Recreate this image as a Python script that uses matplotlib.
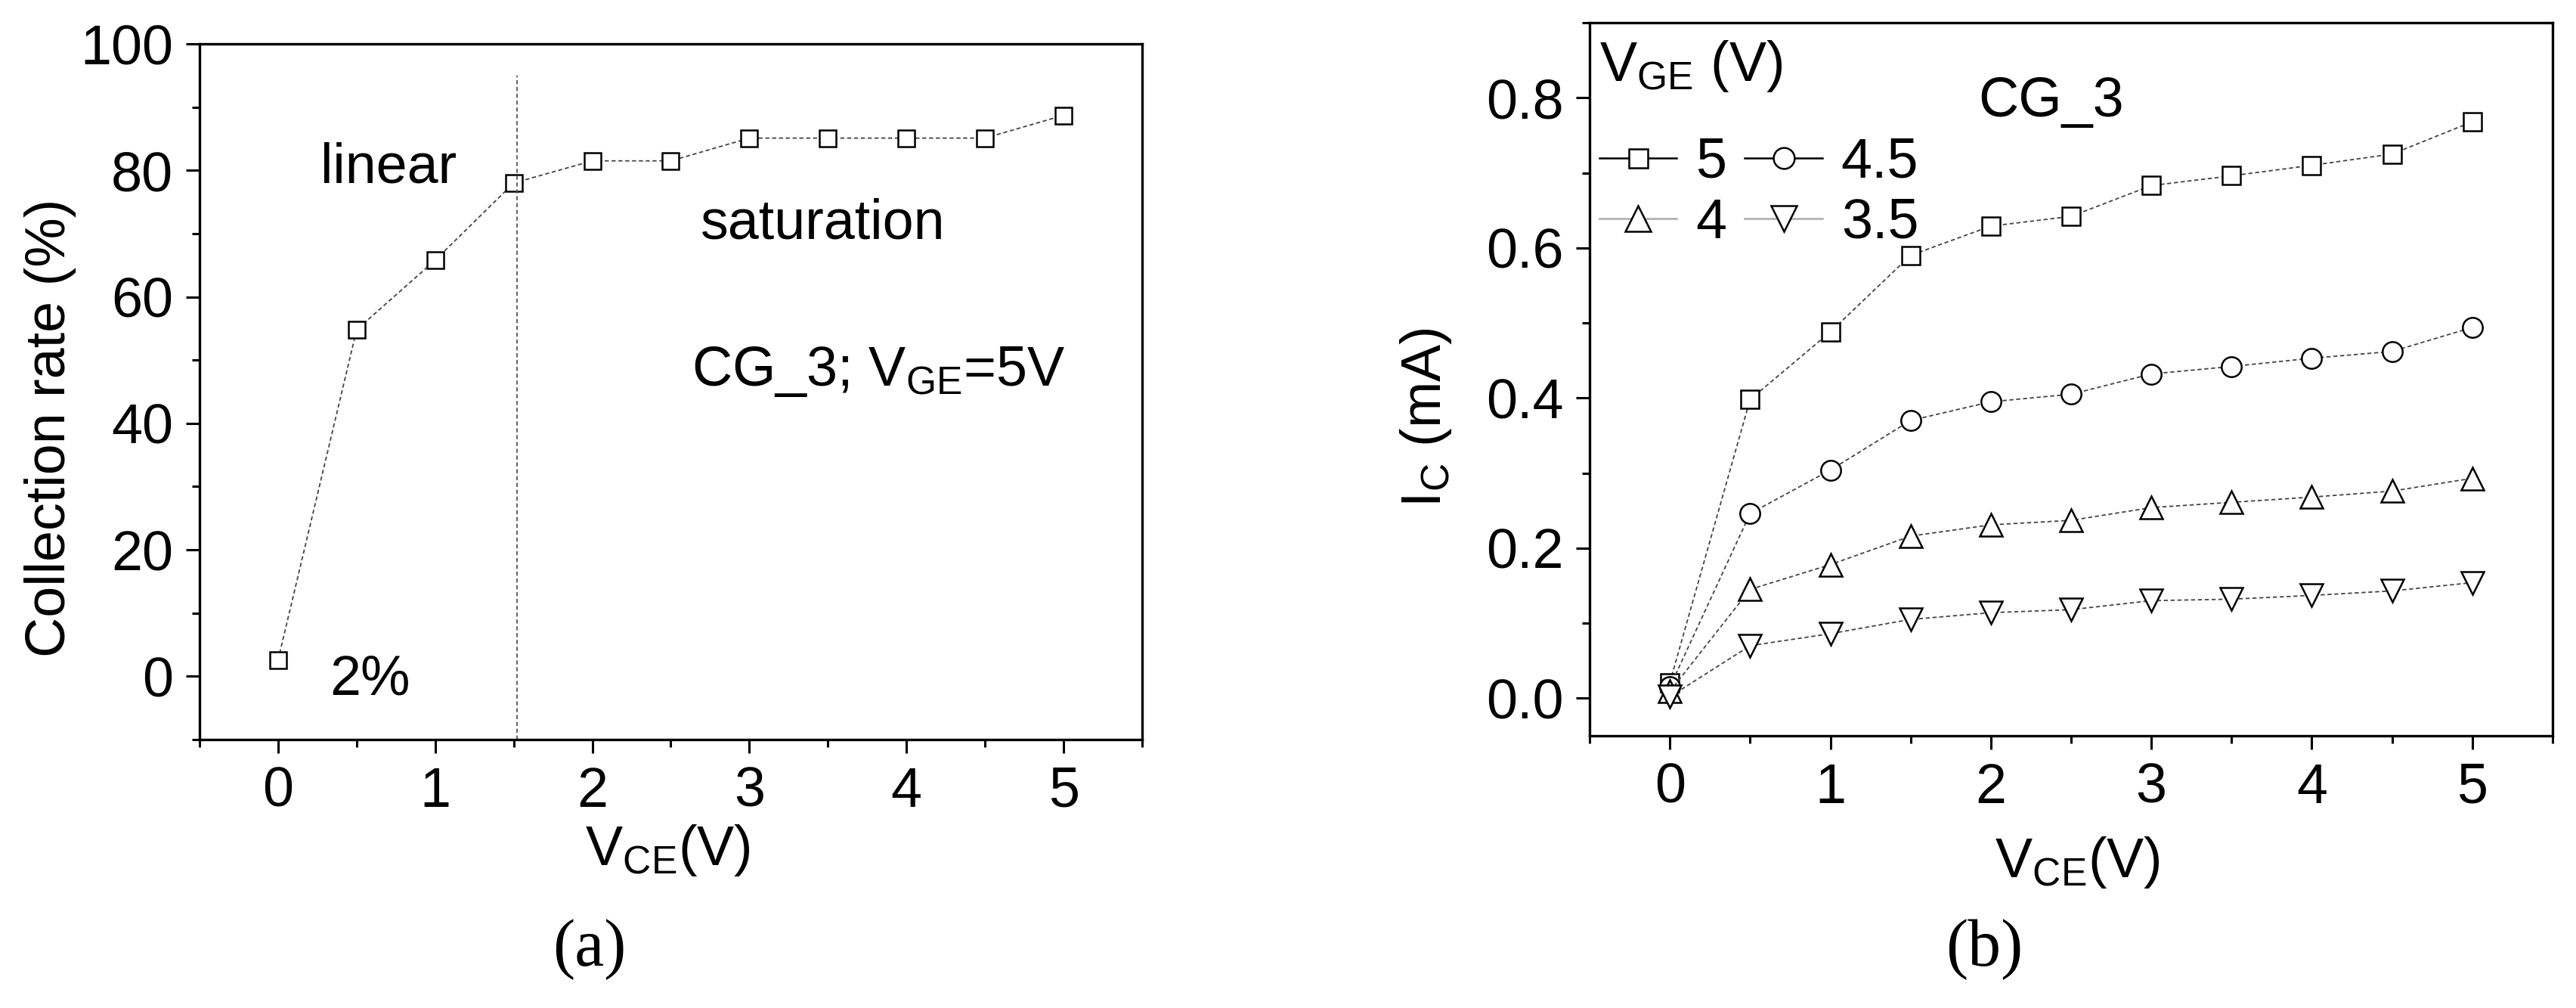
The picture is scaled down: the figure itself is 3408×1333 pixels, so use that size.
import matplotlib
matplotlib.use("Agg")
import matplotlib.pyplot as plt
from matplotlib.lines import Line2D
from matplotlib.ticker import MultipleLocator, FormatStrFormatter

plt.rcParams['font.family'] = ['Liberation Sans', 'DejaVu Sans']
plt.rcParams['mathtext.fontset'] = 'custom'
plt.rcParams['mathtext.rm'] = 'Liberation Sans'
plt.rcParams['mathtext.it'] = 'Liberation Sans:italic'

# (a) collection rate vs V_CE, V_GE = 5 V
vce = [0, 0.5, 1, 1.5, 2, 2.5, 3, 3.5, 4, 4.5, 5]
rate = [2.6, 54.8, 65.8, 78.0, 81.5, 81.5, 85.1, 85.1, 85.1, 85.1, 88.7]
boundary_x = 1.52  # linear / saturation border

# (b) I_C vs V_CE for several V_GE
vge_labels = ['5', '4.5', '4', '3.5']
ic_5 = [0.021, 0.398, 0.488, 0.590, 0.629, 0.642, 0.683, 0.696, 0.710, 0.725, 0.768]
ic_45 = [0.015, 0.246, 0.304, 0.370, 0.395, 0.405, 0.432, 0.442, 0.453, 0.462, 0.494]
ic_4 = [0.009, 0.145, 0.178, 0.216, 0.231, 0.237, 0.254, 0.261, 0.268, 0.276, 0.293]
ic_35 = [0.002, 0.070, 0.086, 0.105, 0.114, 0.118, 0.130, 0.132, 0.137, 0.143, 0.154]

FS = 53
fig = plt.figure(figsize=(34.08, 13.33), dpi=100)
W, H = 3408, 1333
ax1 = fig.add_axes([264 / W, 1 - 978 / H, (1511 - 264) / W, (978 - 58) / H])
ax2 = fig.add_axes([2103 / W, 1 - 973 / H, (3377 - 2103) / W, (973 - 30) / H])

for ax in (ax1, ax2):
    for sp in ax.spines.values():
        sp.set_linewidth(2.4)
    ax.tick_params(which='both', direction='out', top=False, right=False,
                   width=2.2, labelsize=FS, pad=12)
    ax.tick_params(which='major', length=13)
    ax.tick_params(which='minor', length=7)
    ax.set_xlim(-0.5, 5.5)
    ax.set_xticks(range(0, 6))
    ax.xaxis.set_minor_locator(MultipleLocator(0.5))

line_kw = dict(color='#444444', lw=1.3, ls=(0, (3, 2)), mfc='white', mec='black', mew=1.8)

# panel (a)
ax1.plot(vce, rate, marker='s', ms=16, **line_kw)
ax1.vlines(boundary_x, -10, 95, colors='#555555', lw=1.3, linestyles=(0, (3, 2)))
ax1.set_ylim(-10, 100)
ax1.set_yticks(range(0, 101, 20))
ax1.yaxis.set_minor_locator(MultipleLocator(10))
ax1.set_ylabel('Collection rate (%)', fontsize=FS, va='center')
ax1.yaxis.set_label_coords(-0.158, 0.448)
ax1.set_xlabel(r'V$_{\rm CE}$(V)', fontsize=FS, va='center')
ax1.xaxis.set_label_coords(0.497, -0.159)
ax1.text(0.27, 78, 'linear', fontsize=FS, va='baseline')
ax1.text(2.69, 69.2, 'saturation', fontsize=FS, va='baseline')
ax1.text(2.63, 46, r'CG_3; V$_{\rm GE}$=5V', fontsize=FS, va='baseline')
ax1.text(0.33, -2.9, '2%', fontsize=FS, va='baseline')

# panel (b)
ax2.plot(vce, ic_5, marker='s', ms=17, **line_kw)
ax2.plot(vce, ic_45, marker='o', ms=19, **line_kw)
ax2.plot(vce, ic_4, marker='^', ms=22, **line_kw)
ax2.plot(vce, ic_35, marker='v', ms=22, **line_kw)
ax2.set_ylim(-0.05, 0.9)
ax2.set_yticks([0, 0.2, 0.4, 0.6, 0.8])
ax2.yaxis.set_major_formatter(FormatStrFormatter('%.1f'))
ax2.yaxis.set_minor_locator(MultipleLocator(0.1))
ax2.set_ylabel(r'I$_{\rm C}$ (mA)', fontsize=FS, va='center')
ax2.yaxis.set_label_coords(-0.170, 0.446)
ax2.set_xlabel(r'V$_{\rm CE}$(V)', fontsize=FS, va='center')
ax2.xaxis.set_label_coords(0.507, -0.178)
ax2.text(1.92, 0.775, 'CG_3', fontsize=FS, va='baseline')
ax2.text(-0.438, 0.822, r'V$_{\rm GE}$ (V)', fontsize=FS, va='baseline')

h_kw = dict(mfc='white', mec='black', mew=1.8)
handles = [
    Line2D([], [], color='black', lw=1.8, marker='s', ms=18, **h_kw),
    Line2D([], [], color='#aaaaaa', lw=1.8, marker='^', ms=24, **h_kw),
    Line2D([], [], color='black', lw=1.8, marker='o', ms=20, **h_kw),
    Line2D([], [], color='#aaaaaa', lw=1.8, marker='v', ms=24, **h_kw),
]
labels = [vge_labels[0], vge_labels[2], vge_labels[1], vge_labels[3]]
leg = ax2.legend(handles, labels, ncol=2, loc='center left', bbox_to_anchor=(0.010, 0.761),
                 borderaxespad=0, borderpad=0, frameon=False, fontsize=FS,
                 handlelength=1.39, handletextpad=0.34,
                 columnspacing=0.33, labelspacing=0.15)

fig.text(780 / W, 1 - 1256 / H, '(a)', fontsize=63, ha='center', va='center',
         family=['Liberation Serif', 'DejaVu Serif'])
fig.text(2625 / W, 1 - 1256 / H, '(b)', fontsize=63, ha='center', va='center',
         family=['Liberation Serif', 'DejaVu Serif'])

fig.savefig('out.png', dpi=100)
